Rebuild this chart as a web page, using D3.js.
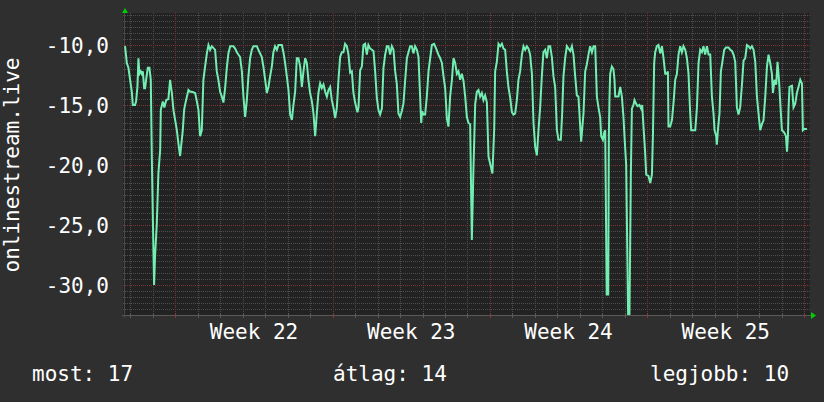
<!DOCTYPE html>
<html><head><meta charset="utf-8">
<script src="https://cdn.jsdelivr.net/npm/d3@7"></script>
<style>
html,body{margin:0;padding:0;background:#2f2f2f;}
svg{display:block;}
text{font-family:"DejaVu Sans Mono",monospace;fill:#ffffff;}
</style></head>
<body>
<svg id="chart" width="824" height="402"></svg>
<script>
// hours relative to start of Week 22 (Monday 00:00)
const hours = [-53.8,-51.9,-50.2,-48.4,-46.6,-45.5,-43.1,-42.0,-40.6,-39.5,-38.5,-37.0,-35.9,-34.8,-33.4,-32.4,-31.3,-29.5,-27.8,-26.3,-25.2,-23.5,-22.8,-21.7,-19.9,-18.2,-16.3,-15.6,-13.5,-11.8,-9.9,-7.5,-5.7,-3.8,-2.1,-0.3,1.5,3.2,5.0,6.8,7.9,9.3,11.1,13.9,15.7,17.5,21.1,22.9,24.6,26.4,28.2,29.9,31.7,33.6,35.3,37.1,38.9,42.4,44.2,45.9,47.8,49.6,51.3,53.1,54.9,56.6,58.5,62.0,63.8,65.6,69.1,71.0,72.7,74.5,76.3,78.0,79.8,81.6,83.4,87.0,88.7,92.3,94.0,95.9,97.7,99.4,101.2,103.0,104.7,106.5,108.4,110.1,113.7,115.4,117.2,119.0,120.8,122.6,124.4,126.1,127.9,129.7,131.4,133.3,135.1,136.8,138.6,140.4,142.1,143.9,145.8,147.5,149.3,151.1,152.8,154.6,156.4,158.2,160.0,161.8,163.5,165.3,167.1,168.8,170.7,172.5,174.2,176.0,177.8,179.5,181.3,183.2,184.9,186.7,188.5,190.2,192.0,194.5,195.6,197.4,199.2,200.9,202.7,204.5,206.2,208.1,209.9,211.6,213.4,215.2,216.9,218.7,220.6,222.3,224.1,225.9,227.6,229.4,231.2,233.0,234.8,236.6,238.3,240.1,241.9,243.6,245.5,247.3,249.0,250.8,252.6,254.3,256.1,258.0,259.7,261.5,262.6,263.6,265.0,266.8,268.6,270.4,272.2,274.0,276.4,278.6,281.0,282.9,284.7,286.4,288.2,290.0,291.7,293.5,295.4,297.1,298.9,300.7,302.4,304.2,306.0,307.8,309.6,311.4,313.1,314.9,316.7,318.4,320.3,322.1,323.8,325.6,327.4,329.1,330.9,332.8,334.5,336.3,338.7,340.6,341.6,343.4,345.2,347.0,348.8,350.5,352.3,354.1,355.8,357.7,359.5,361.2,363.0,364.8,366.5,368.3,370.2,371.9,373.7,375.5,377.2,379.0,380.9,382.6,384.4,386.2,387.9,389.7,391.5,393.2,395.1,396.9,398.6,400.4,402.2,403.9,405.7,407.6,409.3,411.8,413.2,414.6,416.4,418.2,420.0,421.8,423.6,425.3,427.1,428.9,430.6,432.5,433.5,436.0,437.8,439.6,441.3,443.1,445.0,446.7,448.5,450.3,452.0,453.8,454.9,456.7,458.1,459.2,460.8,462.4,463.1,463.8,464.5,466.3,468.0,469.1,469.9,473.4,475.2,477.0,478.7,479.8,481.6,483.7,485.1,486.6,487.7,489.4,490.5,492.3,493.7,495.8,497.6,498.7,500.1,501.9,503.0,505.4,507.3,509.1,510.2,511.5,512.6,514.4,516.1,518.0,519.8,521.5,523.3,524.9,526.2,526.8,528.6,530.5,532.2,534.0,535.8,537.5,539.3,541.1,542.8,544.7,546.5,548.2,550.0,551.1,555.4,557.2,558.9,560.7,562.5,564.2,566.0,567.9,569.6,571.4,573.2,574.9,576.0,577.8,578.5,579.6,581.3,582.8,585.0,586.3,588.2,590.9,592.8,594.6,596.3,598.1,599.9,601.6,603.4,605.3,607.0,608.8,610.6,612.3,614.1,615.9,617.7,619.5,621.3,623.0,624.8,626.6,628.3,630.2,632.0,633.7,635.5,637.3,638.4,640.1,641.9,643.3,645.1,646.2,648.0,650.5,652.3,653.4,654.4,655.1,656.1,658.7,660.4,662.2,664.0,665.7,667.6,669.4,670.4,671.8,674.7];
const values = [-10.1,-11.5,-11.9,-12.9,-13.9,-15.0,-15.0,-14.7,-13.5,-11.1,-12.4,-12.2,-12.4,-12.2,-13.6,-13.6,-12.9,-11.9,-11.9,-12.9,-19.4,-27.1,-30.0,-27.5,-24.9,-20.7,-18.75,-15.4,-14.7,-15.2,-14.6,-14.5,-12.9,-14.0,-15.4,-16.25,-17.1,-18.2,-19.25,-17.9,-17.1,-15.4,-14.7,-13.75,-13.9,-13.9,-14.0,-14.7,-15.4,-17.6,-17.1,-12.9,-11.8,-10.7,-10.0,-10.4,-10.1,-10.4,-12.2,-12.9,-13.9,-14.3,-14.8,-13.6,-11.9,-10.7,-10.1,-10.1,-10.3,-10.6,-11.0,-12.2,-14.3,-16.0,-14.6,-12.6,-11.1,-10.4,-10.1,-10.1,-10.4,-11.0,-11.8,-12.9,-14.0,-13.5,-12.6,-11.8,-10.6,-10.1,-10.4,-10.0,-10.0,-10.6,-11.5,-12.6,-13.75,-15.8,-16.25,-15.0,-13.9,-11.1,-11.1,-11.8,-13.5,-12.2,-11.1,-11.5,-12.9,-14.0,-14.7,-15.7,-17.6,-15.7,-14.0,-13.2,-13.6,-13.3,-13.9,-14.3,-13.75,-13.5,-14.6,-15.2,-16.1,-15.2,-12.9,-11.0,-10.6,-10.6,-9.9,-10.1,-10.8,-12.3,-12.2,-14.0,-14.8,-15.6,-15.2,-12.1,-11.8,-10.0,-9.9,-10.8,-10.0,-10.3,-10.4,-10.5,-12.2,-14.4,-15.4,-15.8,-15.3,-11.9,-10.8,-10.1,-10.1,-10.8,-10.1,-10.4,-12.2,-13.3,-15.7,-16.0,-15.5,-14.9,-12.9,-11.1,-10.6,-10.1,-10.1,-10.7,-10.1,-10.4,-11.0,-14.4,-16.5,-15.5,-15.8,-15.8,-14.3,-12.2,-11.1,-10.0,-9.9,-10.3,-10.8,-11.1,-11.5,-12.6,-13.6,-16.1,-16.8,-14.3,-12.9,-11.1,-11.5,-12.4,-12.2,-12.9,-12.4,-13.0,-14.3,-16.0,-16.5,-16.6,-26.25,-20.4,-14.9,-13.9,-13.75,-14.3,-14.0,-14.6,-14.2,-14.8,-19.3,-19.9,-20.7,-17.0,-12.2,-11.4,-9.9,-10.1,-9.9,-10.3,-10.4,-12.2,-13.5,-14.4,-15.6,-15.8,-15.7,-14.6,-12.9,-12.2,-10.8,-10.1,-10.4,-10.1,-10.3,-10.8,-12.4,-16.5,-18.5,-19.2,-17.1,-15.2,-12.6,-10.6,-10.4,-11.1,-10.1,-10.1,-11.0,-12.6,-13.5,-17.1,-17.9,-17.9,-15.7,-12.6,-11.1,-10.1,-10.3,-10.5,-10.1,-10.8,-12.6,-14.2,-14.3,-16.8,-18.05,-15.7,-12.2,-11.6,-10.8,-10.1,-10.6,-10.1,-10.1,-14.3,-15.2,-16.0,-17.6,-17.9,-17.3,-17.1,-30.8,-30.8,-17.5,-14.3,-12.4,-11.8,-12.0,-12.9,-14.3,-14.3,-13.5,-14.3,-16.0,-17.6,-20.0,-32.6,-32.6,-20.8,-15.3,-15.0,-14.6,-14.9,-15.1,-15.0,-15.3,-15.0,-16.8,-19.0,-20.8,-20.9,-21.5,-20.8,-17.5,-11.5,-10.6,-10.1,-10.0,-10.7,-10.1,-11.1,-12.4,-12.4,-12.2,-16.8,-16.8,-16.25,-14.8,-12.9,-12.4,-10.8,-10.1,-10.6,-10.1,-10.4,-11.1,-12.4,-15.7,-17.1,-17.1,-15.2,-11.5,-10.4,-10.6,-10.1,-10.8,-10.1,-10.8,-10.8,-14.3,-15.7,-17.1,-17.6,-18.3,-17.1,-15.7,-12.2,-11.1,-10.4,-10.2,-10.2,-10.4,-10.5,-10.8,-11.4,-15.2,-15.8,-15.2,-13.3,-11.3,-11.1,-10.0,-10.1,-10.3,-10.1,-10.4,-11.4,-14.3,-15.7,-17.1,-16.6,-16.3,-14.3,-11.8,-10.8,-11.5,-12.4,-14.0,-12.9,-13.3,-11.4,-13.2,-14.8,-17.1,-17.3,-17.6,-18.9,-17.6,-15.3,-13.5,-13.4,-15.2,-14.9,-14.0,-13.5,-12.9,-13.2,-17.1,-17.0,-17.0];

const yTicks = [-10, -15, -20, -25, -30];
const weekStarts = [0, 168, 336, 504, 672];
const weekLabels = ["Week 22", "Week 23", "Week 24", "Week 25"];
const weekCenters = [84, 252, 420, 588];
const yTitle = "onlinestream.live";
const legendLabels = ["most: 17", "átlag: 14", "legjobb: 10"];

const svg = d3.select("#chart");
const L = 123, R = 810, T = 13, B = 315;
const x = d3.scaleLinear().domain([-56, 678]).range([L, R]);
const y = d3.scaleLinear().domain([-32.5, -7.5]).range([315, 15]);

svg.append("rect").attr("width", 824).attr("height", 402).attr("fill", "#2f2f2f");
svg.append("rect").attr("x", L).attr("y", T).attr("width", R - L).attr("height", B - T).attr("fill", "#222222");

const grid = svg.append("g").attr("shape-rendering", "crispEdges");
// minor horizontal
const hMinor = d3.range(-32.5, -7.49, 0.5).filter(v => Math.abs(v % 5) > 1e-6);
grid.selectAll(".hm").data(hMinor).enter().append("line")
  .attr("x1", L).attr("x2", R).attr("y1", d => Math.round(y(d)) + 0.5).attr("y2", d => Math.round(y(d)) + 0.5)
  .attr("stroke", "#4e4e4e").attr("stroke-dasharray", "1,1");
// minor vertical (days)
const vMinor = d3.range(-48, 679, 24).filter(h => h % 168 !== 0);
grid.selectAll(".vm").data(vMinor).enter().append("line")
  .attr("y1", T).attr("y2", B).attr("x1", d => Math.round(x(d)) + 0.5).attr("x2", d => Math.round(x(d)) + 0.5)
  .attr("stroke", "#4e4e4e").attr("stroke-dasharray", "1,1");
// major horizontal
grid.selectAll(".hM").data(yTicks).enter().append("line")
  .attr("x1", L).attr("x2", R).attr("y1", d => Math.round(y(d)) + 0.5).attr("y2", d => Math.round(y(d)) + 0.5)
  .attr("stroke", "#7a3434").attr("stroke-dasharray", "1,1");
// major vertical (weeks)
grid.selectAll(".vM").data(weekStarts).enter().append("line")
  .attr("y1", T).attr("y2", B).attr("x1", d => Math.round(x(d)) + 0.5).attr("x2", d => Math.round(x(d)) + 0.5)
  .attr("stroke", "#7a3434").attr("stroke-dasharray", "1,1");

// axes
const ax = svg.append("g").attr("shape-rendering", "crispEdges");
ax.append("line").attr("x1", 122).attr("x2", 812).attr("y1", B + 0.5).attr("y2", B + 0.5).attr("stroke", "#5a5a5a");
ax.append("line").attr("x1", 124.5).attr("x2", 124.5).attr("y1", 12).attr("y2", B + 3).attr("stroke", "#4a4a4a");
ax.selectAll(".xt").data(vMinor).enter().append("line")
  .attr("x1", d => Math.round(x(d)) + 0.5).attr("x2", d => Math.round(x(d)) + 0.5)
  .attr("y1", B - 2).attr("y2", B + 3).attr("stroke", "#5a5a5a");
ax.selectAll(".xT").data(weekStarts).enter().append("line")
  .attr("x1", d => Math.round(x(d)) + 0.5).attr("x2", d => Math.round(x(d)) + 0.5)
  .attr("y1", B - 2).attr("y2", B + 3).attr("stroke", "#8a3a3a");
// arrows
svg.append("path").attr("d", "M122,13 L125,8 L128,13 Z").attr("fill", "#00d000");
svg.append("path").attr("d", "M811,312 L816,315.5 L811,319 Z").attr("fill", "#00d000");

// data line
svg.append("clipPath").attr("id", "clip").append("rect").attr("x", L).attr("y", T).attr("width", R - L).attr("height", B - T);
const pts = hours.map((h, i) => [h, values[i]]);
const line = d3.line().x(d => x(d[0])).y(d => y(d[1]));
svg.append("path").datum(pts).attr("d", line).attr("clip-path", "url(#clip)")
  .attr("fill", "none").attr("stroke", "#72eeb2").attr("stroke-width", 2).attr("stroke-linejoin", "miter");

// y tick labels
svg.selectAll(".yl").data(yTicks).enter().append("text")
  .attr("x", 109).attr("y", d => y(d) + 7.5).attr("text-anchor", "end").attr("font-size", 21)
  .text(d => d3.format(".1f")(d).replace("−", "-").replace(".", ","));
// week labels
svg.selectAll(".wl").data(weekLabels).enter().append("text")
  .attr("x", (d, i) => x(weekCenters[i])).attr("y", 339).attr("text-anchor", "middle").attr("font-size", 21)
  .text(d => d);
// y title
svg.append("text").attr("transform", "translate(19,165) rotate(-90)").attr("text-anchor", "middle")
  .attr("font-size", 21).text(yTitle);
// legend
const legendX = [32, 333, 650];
svg.selectAll(".lg").data(legendLabels).enter().append("text")
  .attr("x", (d, i) => legendX[i]).attr("y", 381).attr("font-size", 21).text(d => d);
</script>
</body></html>
